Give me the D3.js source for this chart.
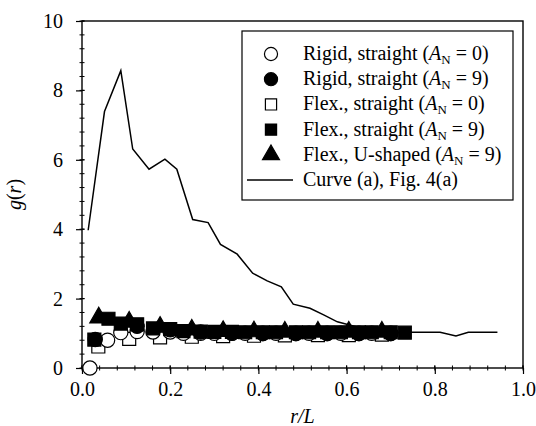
<!DOCTYPE html>
<html>
<head>
    <meta charset="utf-8">
    <script type="text/javascript" src="https://d3js.org/d3.v7.min.js"></script>
</head>
<body style="margin:0">
<div id="container"></div>

<script type="text/javascript">
    // Curve (a), Fig. 4(a)
    var curveR = [0.014, 0.051, 0.088, 0.115, 0.152, 0.188, 0.215, 0.251, 0.286, 0.314, 0.352, 0.387, 0.420, 0.452,
        0.479, 0.517, 0.548, 0.579, 0.615, 0.650, 0.680, 0.715, 0.750, 0.780, 0.812, 0.848, 0.876, 0.910, 0.942];
    var curveG = [3.97, 7.39, 8.57, 6.31, 5.73, 6.02, 5.73, 4.28, 4.19, 3.56, 3.28, 2.73, 2.51, 2.34,
        1.84, 1.72, 1.53, 1.33, 1.21, 1.10, 1.05, 1.03, 1.03, 1.03, 1.03, 0.92, 1.03, 1.03, 1.03];

    // Rigid, straight (A_N = 0)
    var rigid0R = [0.018, 0.058, 0.088, 0.125, 0.161, 0.200, 0.230, 0.269, 0.300, 0.340, 0.370, 0.410, 0.440, 0.485, 0.515, 0.556, 0.587, 0.628, 0.657, 0.700];
    var rigid0G = [0.00, 0.80, 1.02, 1.05, 1.04, 1.04, 1.00, 1.00, 1.00, 1.00, 1.00, 1.00, 1.00, 1.00, 1.00, 1.00, 1.00, 1.00, 1.00, 1.00];
    // Rigid, straight (A_N = 9)
    var rigid9R = [0.030, 0.125, 0.200, 0.269, 0.340, 0.410, 0.485, 0.556, 0.628, 0.700];
    var rigid9G = [0.82, 1.20, 1.10, 1.04, 1.00, 0.99, 0.99, 0.99, 0.99, 0.99];
    // Flex., straight (A_N = 0)
    var flex0R = [0.037, 0.107, 0.177, 0.249, 0.320, 0.390, 0.460, 0.535, 0.605, 0.680];
    var flex0G = [0.62, 0.84, 0.88, 0.90, 0.92, 0.93, 0.94, 0.95, 0.95, 0.96];
    // Flex., straight (A_N = 9)
    var flex9R = [0.028, 0.060, 0.088, 0.125, 0.161, 0.200, 0.230, 0.269, 0.300, 0.340, 0.370, 0.410, 0.440, 0.485, 0.515, 0.556, 0.587, 0.628, 0.657, 0.700, 0.732];
    var flex9G = [0.82, 1.42, 1.28, 1.26, 1.14, 1.12, 1.06, 1.05, 1.04, 1.04, 1.03, 1.03, 1.03, 1.03, 1.03, 1.03, 1.03, 1.03, 1.03, 1.03, 1.02];
    // Flex., U-shaped (A_N = 9)
    var flexUR = [0.038, 0.107, 0.177, 0.249, 0.320, 0.390, 0.460, 0.535, 0.605, 0.680];
    var flexUG = [1.45, 1.33, 1.18, 1.10, 1.06, 1.05, 1.04, 1.04, 1.04, 1.04];

    var xTicks = [0.0, 0.2, 0.4, 0.6, 0.8, 1.0];
    var yTicks = [0, 2, 4, 6, 8, 10];

    var legendRows = [
        {lab: "Rigid, straight (", n: "0)", shape: "circle", fill: "white"},
        {lab: "Rigid, straight (", n: "9)", shape: "circle", fill: "black"},
        {lab: "Flex., straight (", n: "0)", shape: "square", fill: "white"},
        {lab: "Flex., straight (", n: "9)", shape: "square", fill: "black"},
        {lab: "Flex., U-shaped (", n: "9)", shape: "triangle", fill: "black"},
        {lab: "Curve (a), Fig. 4(a)", shape: "line"}
    ];

    var FONT = "Liberation Serif";
    var width = 536, height = 426;
    var margin = {left: 82, top: 21, right: 13, bottom: 58};
    var w = width - margin.left - margin.right;
    var h = height - margin.top - margin.bottom;

    var svg = d3.select("#container").append("svg")
        .attr("width", width)
        .attr("height", height)
        .attr("font-family", FONT);

    var g = svg.append("g").attr("transform", "translate(" + margin.left + "," + margin.top + ")");

    var x = d3.scaleLinear().domain([0, 1]).range([0, w]);
    var y = d3.scaleLinear().domain([0, 10]).range([h, 0]);

    // minor ticks
    var xMinor = d3.range(0, 1.0001, 0.04);
    var yMinor = d3.range(0, 10.0001, 0.4);

    g.selectAll(".xminor").data(xMinor).enter().append("line")
        .attr("x1", d => x(d)).attr("x2", d => x(d))
        .attr("y1", h - 2.5).attr("y2", h + 2.5)
        .attr("stroke", "black").attr("stroke-width", 1);
    g.selectAll(".yminor").data(yMinor).enter().append("line")
        .attr("y1", d => y(d)).attr("y2", d => y(d))
        .attr("x1", -2.5).attr("x2", 2.5)
        .attr("stroke", "black").attr("stroke-width", 1);

    // major ticks + labels
    var xAxis = g.append("g").attr("transform", "translate(0," + h + ")")
        .call(d3.axisBottom(x).tickValues(xTicks).tickFormat(d3.format(".1f")).tickSizeInner(6).tickSizeOuter(0).tickPadding(8));
    var yAxis = g.append("g")
        .call(d3.axisLeft(y).tickValues(yTicks).tickFormat(d3.format("d")).tickSizeInner(6).tickSizeOuter(0).tickPadding(13));
    [xAxis, yAxis].forEach(function(a) {
        a.attr("font-family", FONT).attr("font-size", 20);
        a.select(".domain").remove();
        a.selectAll("line").attr("stroke-width", 1.2);
        a.selectAll("text").attr("fill", "black");
    });
    g.selectAll(".xmaj").data(xTicks).enter().append("line")
        .attr("x1", d => x(d)).attr("x2", d => x(d))
        .attr("y1", h).attr("y2", h - 2.5)
        .attr("stroke", "black").attr("stroke-width", 1.2);
    g.selectAll(".ymaj").data(yTicks).enter().append("line")
        .attr("y1", d => y(d)).attr("y2", d => y(d))
        .attr("x1", 0).attr("x2", 2.5)
        .attr("stroke", "black").attr("stroke-width", 1.2);

    // frame
    g.append("rect").attr("x", 0).attr("y", 0).attr("width", w).attr("height", h)
        .attr("fill", "none").attr("stroke", "black").attr("stroke-width", 1.4);

    // curve
    var line = d3.line().x(d => x(d[0])).y(d => y(d[1]));
    g.append("path")
        .datum(d3.zip(curveR, curveG))
        .attr("d", line)
        .attr("fill", "none").attr("stroke", "black").attr("stroke-width", 1.5);

    var sym = {
        circle: d3.symbol().type(d3.symbolCircle).size(160),
        square: d3.symbol().type(d3.symbolSquare).size(169),
        triangle: d3.symbol().type(d3.symbolTriangle).size(140)
    };

    function drawSeries(rs, gs, shape, fill) {
        g.append("g").selectAll("path")
            .data(d3.zip(rs, gs))
            .enter().append("path")
            .attr("d", sym[shape])
            .attr("transform", d => "translate(" + x(d[0]) + "," + y(d[1]) + ")")
            .attr("fill", fill)
            .attr("stroke", "black")
            .attr("stroke-width", 1.2);
    }
    drawSeries(flex0R, flex0G, "square", "white");
    drawSeries(rigid0R, rigid0G, "circle", "white");
    drawSeries(rigid9R, rigid9G, "circle", "black");
    drawSeries(flex9R, flex9G, "square", "black");
    drawSeries(flexUR, flexUG, "triangle", "black");

    // legend
    var lsym = {
        circle: d3.symbol().type(d3.symbolCircle).size(135),
        square: d3.symbol().type(d3.symbolSquare).size(125),
        triangle: d3.symbol().type(d3.symbolTriangle).size(125)
    };
    var lg = svg.append("g").attr("transform", "translate(242,31)");
    lg.append("rect").attr("width", 271).attr("height", 169)
        .attr("fill", "white").attr("stroke", "black").attr("stroke-width", 1.2);
    var rows = lg.selectAll(".row").data(legendRows).enter().append("g")
        .attr("transform", (d, i) => "translate(0," + (23 + i * 25.2) + ")");
    rows.filter(d => d.shape !== "line").append("path")
        .attr("d", d => lsym[d.shape]())
        .attr("transform", "translate(29,0)")
        .attr("fill", d => d.fill).attr("stroke", "black").attr("stroke-width", 1.2);
    rows.filter(d => d.shape === "line").append("line")
        .attr("x1", 5).attr("x2", 51).attr("y1", 0).attr("y2", 0)
        .attr("stroke", "black").attr("stroke-width", 1.5);
    var txt = rows.append("text")
        .attr("x", 61).attr("y", 6)
        .attr("font-family", FONT)
        .attr("font-size", 20).attr("fill", "black");
    txt.append("tspan").text(d => d.lab);
    txt.filter(d => d.n).append("tspan").attr("font-style", "italic").text("A");
    txt.filter(d => d.n).append("tspan").attr("font-size", 13).attr("dy", 4).text("N");
    txt.filter(d => d.n).append("tspan").attr("dy", -4).text(d => " = " + d.n);

    // axis titles
    svg.append("text")
        .attr("x", margin.left + w / 2).attr("y", 423)
        .attr("font-family", FONT)
        .attr("text-anchor", "middle").attr("font-size", 20).attr("font-style", "italic")
        .text("r/L");
    var yt = svg.append("text")
        .attr("transform", "translate(21," + (margin.top + h / 2) + ") rotate(-90)")
        .attr("font-family", FONT)
        .attr("text-anchor", "middle").attr("font-size", 20).attr("fill", "black");
    yt.append("tspan").attr("font-style", "italic").text("g");
    yt.append("tspan").text("(");
    yt.append("tspan").attr("font-style", "italic").text("r");
    yt.append("tspan").text(")");
</script>
</body>
</html>
